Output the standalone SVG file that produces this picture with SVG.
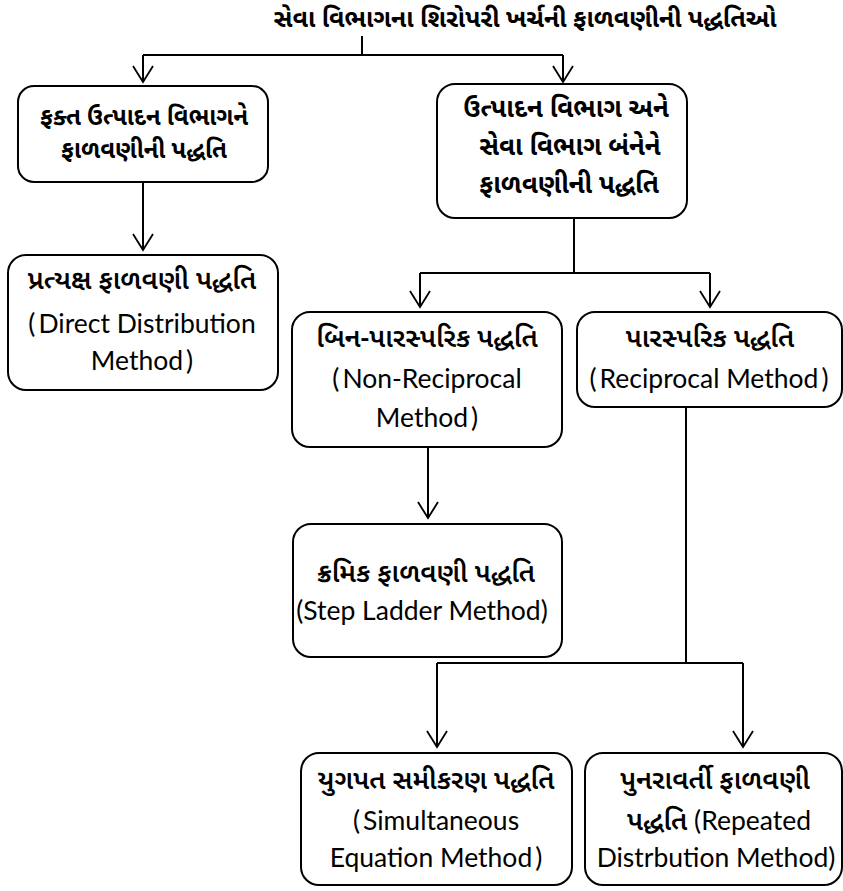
<svg xmlns="http://www.w3.org/2000/svg" width="843" height="891" viewBox="0 0 843 891">
<defs>
<marker id="arr" markerWidth="20" markerHeight="22" refX="17" refY="11" orient="auto" markerUnits="userSpaceOnUse" viewBox="0 0 20 22">
<path d="M1,1 L17,11 L1,21" fill="none" stroke="#000" stroke-width="1.8"/>
</marker>
<style>
.box{fill:#fff;stroke:#000;stroke-width:2}
.gb{font-family:"Noto Sans Gujarati","Lohit Gujarati","Shruti","Noto Sans",sans-serif;font-weight:700;fill:#000;text-anchor:middle}
.gs{font-family:"Noto Sans Gujarati","Lohit Gujarati","Shruti","Noto Sans",sans-serif;font-weight:600;font-size:27px;fill:#000;text-anchor:middle}
.en{font-family:"Lato","Carlito","Noto Sans",sans-serif;font-weight:400;font-size:26.5px;fill:#000;text-anchor:middle}
.ln{fill:none;stroke:#000;stroke-width:2}
</style>
</defs>
<rect width="843" height="891" fill="#fff"/>
<g id="connectors">
<path class="ln" d="M362,36 V55"/>
<path class="ln" d="M143,55 H563"/>
<path class="ln" d="M143,55 V82" marker-end="url(#arr)"/>
<path class="ln" d="M563,55 V82" marker-end="url(#arr)"/>
<path class="ln" d="M143,182 V250" marker-end="url(#arr)"/>
<path class="ln" d="M574,218 V273"/>
<path class="ln" d="M420,273 H710"/>
<path class="ln" d="M420,273 V307" marker-end="url(#arr)"/>
<path class="ln" d="M710,273 V307" marker-end="url(#arr)"/>
<path class="ln" d="M428,447 V518" marker-end="url(#arr)"/>
<path class="ln" d="M686,407 V663"/>
<path class="ln" d="M437,663 H743"/>
<path class="ln" d="M437,663 V747" marker-end="url(#arr)"/>
<path class="ln" d="M743,663 V747" marker-end="url(#arr)"/>
</g>
<g id="title">
<text class="gb" x="525" y="27" font-size="25">સેવા વિભાગના શિરોપરી ખર્ચની ફાળવણીની પદ્ધતિઓ</text>
</g>
<g id="n-only-production">
<rect class="box" x="18" y="86" width="250" height="96" rx="16"/>
<text class="gb" x="144" y="125" font-size="24">ફક્ત ઉત્પાદન વિભાગને</text>
<text class="gb" x="144" y="158" font-size="24">ફાળવણીની પદ્ધતિ</text>
</g>
<g id="n-direct">
<rect class="box" x="8" y="255" width="270" height="135" rx="18"/>
<text class="gs" x="142" y="289">પ્રત્યક્ષ ફાળવણી પદ્ધતિ</text>
<text class="en" x="142" y="333">(<tspan dx="3">Direct Distribution</tspan></text>
<text class="en" x="142" y="370">Method<tspan dx="3">)</tspan></text>
</g>
<g id="n-both">
<rect class="box" x="437" y="84" width="250" height="134" rx="18"/>
<text class="gb" x="566" y="117" font-size="26">ઉત્પાદન વિભાગ અને</text>
<text class="gb" x="570" y="155" font-size="26">સેવા વિભાગ બંનેને</text>
<text class="gb" x="569" y="193" font-size="26">ફાળવણીની પદ્ધતિ</text>
</g>
<g id="n-nonreciprocal">
<rect class="box" x="292" y="312" width="270" height="135" rx="18"/>
<text class="gs" x="427" y="347">બિન-પારસ્પરિક પદ્ધતિ</text>
<text class="en" x="427" y="388">(<tspan dx="3">Non-Reciprocal</tspan></text>
<text class="en" x="427" y="427">Method<tspan dx="3">)</tspan></text>
</g>
<g id="n-reciprocal">
<rect class="box" x="577" y="312" width="265" height="95" rx="18"/>
<text class="gs" x="710" y="347">પારસ્પરિક પદ્ધતિ</text>
<text class="en" x="709" y="388" font-size="27">(<tspan dx="3">Reciprocal Method</tspan><tspan dx="3">)</tspan></text>
</g>
<g id="n-stepladder">
<rect class="box" x="293" y="524" width="269" height="133" rx="18"/>
<text class="gs" x="426" y="582">ક્રમિક ફાળવણી પદ્ધતિ</text>
<text class="en" x="422" y="620" font-size="25.5">(Step Ladder Method)</text>
</g>
<g id="n-simultaneous">
<rect class="box" x="301" y="753" width="271" height="132" rx="18"/>
<text class="gs" x="436" y="789">યુગપત સમીકરણ પદ્ધતિ</text>
<text class="en" x="436" y="830">(<tspan dx="3">Simultaneous</tspan></text>
<text class="en" x="436" y="867">Equation Method<tspan dx="3">)</tspan></text>
</g>
<g id="n-repeated">
<rect class="box" x="585" y="753" width="257" height="132" rx="18"/>
<text class="gs" x="715" y="789">પુનરાવર્તી ફાળવણી</text>
<text class="gs" x="719" y="830">પદ્ધતિ<tspan class="en" font-size="24" font-weight="400"> (Repeated</tspan></text>
<text class="en" x="716" y="867" font-size="24.5">Distrbution Method)</text>
</g>
</svg>
